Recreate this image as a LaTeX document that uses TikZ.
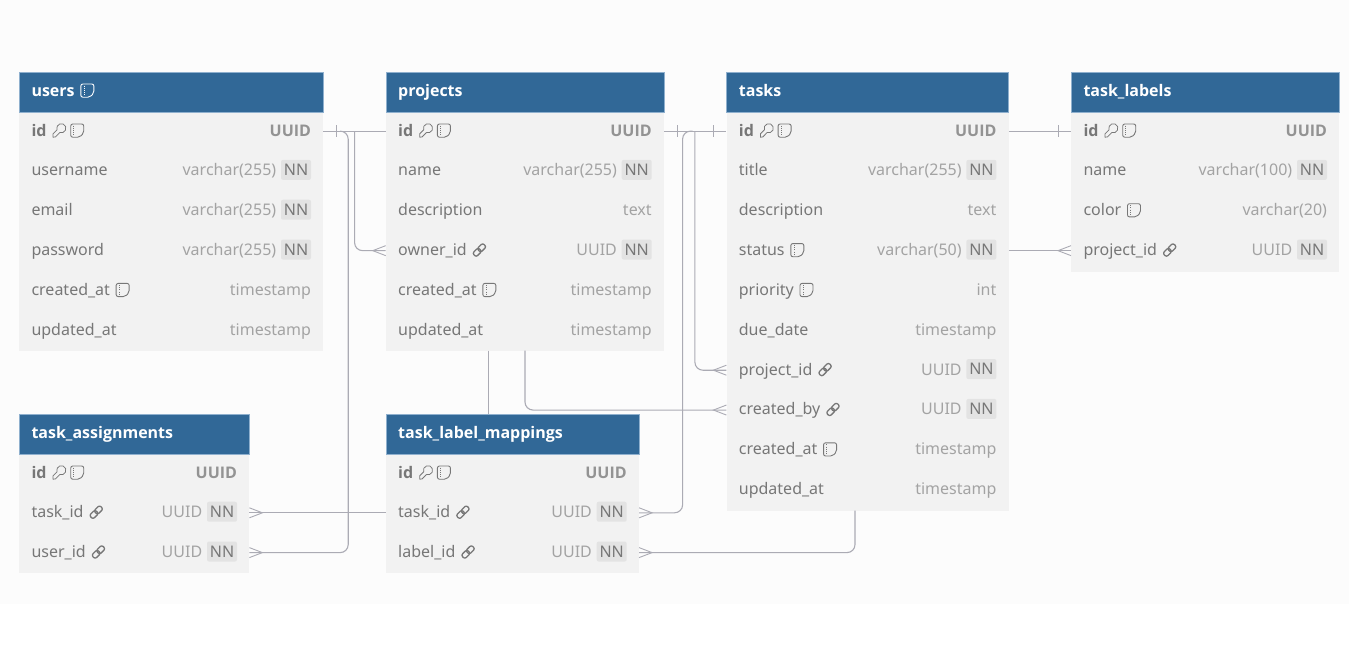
\documentclass[tikz,border=0pt]{standalone}
\usepackage{fontspec}
\setmainfont{Noto Sans}
\newfontfamily\boldfam{Open Sans}
\usetikzlibrary{calc}
\definecolor{hdr}{HTML}{316897}
\definecolor{hdrline}{HTML}{8FB0CE}
\definecolor{rowbg}{HTML}{F2F2F2}
\definecolor{pagebg}{HTML}{FCFCFC}
\definecolor{relc}{HTML}{ABABB4}
\definecolor{namec}{HTML}{777777}
\definecolor{typec}{HTML}{A3A3A3}
\definecolor{nnbg}{HTML}{E3E3E3}
\tikzset{
  hdrbox/.style={draw=hdrline,line width=.4pt,fill=hdr,inner sep=0pt,anchor=north west,minimum height=39.5pt},
  rowbox/.style={draw=none,fill=rowbg,inner sep=0pt,anchor=north west},
  rowslot/.style={draw=none,inner sep=0pt,anchor=west,minimum height=39.85pt},
  hdrtxt/.style={anchor=base west,inner sep=0pt,text=white,font=\fontsize{16}{18}\selectfont\boldfam\bfseries},
  nametxt/.style={anchor=base west,inner sep=0pt,text=namec,font=\fontsize{16}{18}\selectfont},
  idtxt/.style={anchor=base west,inner sep=0pt,text=namec,font=\fontsize{16}{18}\selectfont\boldfam\bfseries},
  typetxt/.style={anchor=base east,inner sep=0pt,text=typec,font=\fontsize{16}{18}\selectfont},
  idtype/.style={anchor=base east,inner sep=0pt,text=typec!90!black,font=\fontsize{16}{18}\selectfont\boldfam\bfseries},
  nnbox/.style={fill=nnbg,rounded corners=2pt,inner sep=0pt,minimum width=30pt,minimum height=20pt,text=namec,font=\fontsize{16}{18}\selectfont},
  icon/.style={draw=namec,line width=.75pt,line join=round},
  rel/.style={draw=relc,line width=1.1pt,rounded corners=8pt},
  relthin/.style={draw=relc,line width=.9pt},
}
\newcommand{\erdtable}[7]{%
  \def\tx{#2}\def\tw{#4}%
  \node[rowbox,minimum width=#4 pt,minimum height=#5 pt] (#1) at (#2,#3) {};
  \node[hdrbox,minimum width=#4 pt] (#1-head) at (#2,#3) {};
  \node[hdrtxt] (#1-title) at ({#2+12.3},{#3+24}) {#6};
  \begin{scope}[shift={(#1-title.base east)}]#7\end{scope}
}
\newcommand{\erdrow}[6]{%
  \node[rowslot,minimum width=\tw pt] (#1) at (\tx,{#2+1.1}) {};
  \node[nametxt] (#1-n) at ({\tx+12.3},{#2+6}) {#3};
  \begin{scope}[shift={(#1-n.base east)}]#5\end{scope}
  \ifx\relax#6\relax
    \node[typetxt] (#1-t) at ({\tx+\tw-11.8},{#2+6}) {#4};
  \else
    \node[typetxt] (#1-t) at ({\tx+\tw-46.6},{#2+6}) {#4};
    \node[nnbox] (#1-nn) at ({\tx+\tw-27},{#2}) {NN};
  \fi
}
\newcommand{\erdidrow}[2]{%
  \node[rowslot,minimum width=\tw pt] (#1) at (\tx,{#2+1.1}) {};
  \node[idtxt] (#1-n) at ({\tx+12.3},{#2+6}) {id};
  \begin{scope}[shift={(#1-n.base east)}]\ickey{6}\icnote{24}{namec}\end{scope}
  \node[idtype] (#1-t) at ({\tx+\tw-11.8},{#2+6}) {UUID};
}
\newcommand{\icnote}[2]{%
  \begin{scope}[shift={(#1,0)}]
    \draw[icon,draw=#2,rounded corners=2pt,line width=.9pt] (0,-12) -- (13,-12) -- (13,-3) -- (9,1.2) -- (0,1.2) -- cycle;
    \draw[icon,draw=#2,line width=.6pt,dash pattern=on 1pt off 1.2pt] (3,-10.5) -- (3,-0.5);
  \end{scope}}
\newcommand{\ickey}[1]{%
  \begin{scope}[shift={(#1,0)}]
    \draw[icon] (0.3,-2.2) -- (4.3,-6.2) arc[start angle=200,end angle=-110,radius=4.6pt] -- (2.6,1) -- (0.3,1.2) -- cycle;
  \end{scope}}
\newcommand{\iclink}[1]{%
  \begin{scope}[shift={(#1+6.5,-5.5)},rotate=45]
    \draw[icon,line width=1.3pt,rounded corners=2pt] (-7.2,-2.6) rectangle (0.8,2.6);
    \draw[icon,line width=1.3pt,rounded corners=2pt] (-0.8,-2.6) rectangle (7.2,2.6);
  \end{scope}}
\newcommand{\crow}[2]{%
  \draw[relthin] ($(#1)+(0,-5)$) -- ($(#1)+(#2*13,0)$) -- ($(#1)+(0,5)$);}
\newcommand{\tbar}[2]{%
  \draw[relthin] ($(#1)+(#2,-6)$) -- ($(#1)+(#2,6)$);}
\begin{document}
\begin{tikzpicture}[x=1pt,y=-1pt]
\useasboundingbox (0,0) rectangle (1349,648);
\fill[white] (0,0) rectangle (1349,648);
\fill[pagebg] (0,0) rectangle (1349,604);
% users
\erdtable{users}{19}{72}{304}{278.5}{users}{\icnote{6}{white}}
\erdidrow{users-id}{130}
\erdrow{users-username}{169.85}{username}{varchar(255)}{}{x}
\erdrow{users-email}{209.7}{email}{varchar(255)}{}{x}
\erdrow{users-password}{249.55}{password}{varchar(255)}{}{x}
\erdrow{users-created}{289.4}{created\_at}{timestamp}{\icnote{6}{namec}}{}
\erdrow{users-updated}{329.25}{updated\_at}{timestamp}{}{}
% projects
\erdtable{projects}{385.7}{72}{278}{278.5}{projects}{}
\erdidrow{projects-id}{130}
\erdrow{projects-name}{169.85}{name}{varchar(255)}{}{x}
\erdrow{projects-desc}{209.7}{description}{text}{}{}
\erdrow{projects-owner}{249.55}{owner\_id}{UUID}{\iclink{6}}{x}
\erdrow{projects-created}{289.4}{created\_at}{timestamp}{\icnote{6}{namec}}{}
\erdrow{projects-updated}{329.25}{updated\_at}{timestamp}{}{}
% tasks
\erdtable{tasks}{726.4}{72}{282}{438.5}{tasks}{}
\erdidrow{tasks-id}{130}
\erdrow{tasks-title}{169.85}{title}{varchar(255)}{}{x}
\erdrow{tasks-desc}{209.7}{description}{text}{}{}
\erdrow{tasks-status}{249.55}{status}{varchar(50)}{\icnote{6}{namec}}{x}
\erdrow{tasks-priority}{289.4}{priority}{int}{\icnote{6}{namec}}{}
\erdrow{tasks-due}{329.25}{due\_date}{timestamp}{}{}
\erdrow{tasks-project}{369.1}{project\_id}{UUID}{\iclink{6}}{x}
\erdrow{tasks-createdby}{408.95}{created\_by}{UUID}{\iclink{6}}{x}
\erdrow{tasks-created}{448.8}{created\_at}{timestamp}{\icnote{6}{namec}}{}
\erdrow{tasks-updated}{488.65}{updated\_at}{timestamp}{}{}
% task_labels
\erdtable{labels}{1071}{72}{268}{199.5}{task\_labels}{}
\erdidrow{labels-id}{130}
\erdrow{labels-name}{169.85}{name}{varchar(100)}{}{x}
\erdrow{labels-color}{209.7}{color}{varchar(20)}{\icnote{6}{namec}}{}
\erdrow{labels-project}{249.55}{project\_id}{UUID}{\iclink{6}}{x}
% task_assignments
\erdtable{assign}{19}{414}{230}{158.5}{task\_assignments}{}
\erdidrow{assign-id}{472}
\erdrow{assign-task}{511.7}{task\_id}{UUID}{\iclink{6}}{x}
\erdrow{assign-user}{551.5}{user\_id}{UUID}{\iclink{6}}{x}
% task_label_mappings
\erdtable{maps}{385.7}{414}{253}{158.5}{task\_label\_mappings}{}
\erdidrow{maps-id}{472}
\erdrow{maps-task}{511.7}{task\_id}{UUID}{\iclink{6}}{x}
\erdrow{maps-label}{551.5}{label\_id}{UUID}{\iclink{6}}{x}
% routing points
\coordinate (u1) at (354.6,131.1);
\coordinate (u2) at (348.2,131.1);
\coordinate (p1) at (694.9,131.1);
\coordinate (t1) at (682.6,131.1);
\coordinate (pb1) at (525,350.5);
\coordinate (pb2) at (488.5,350.5);
\coordinate (mt) at (488.5,414);
\coordinate (tb) at (855,510.5);
% connectors
\draw[rel] (users-id.east) -- (projects-id.west);
\draw[rel] (u1) |- (projects-owner.west);
\draw[rel] (u2) ++(-8,0) -- (u2) |- (assign-user.east);
\draw[rel] (projects-id.east) -- (tasks-id.west);
\draw[rel] (p1) |- (tasks-project.west);
\draw[rel] (t1) ++(10,0) -- (t1) |- (maps-task.east);
\draw[rel] (pb1) |- (tasks-createdby.west);
\draw[rel] (pb2) -- (mt);
\draw[rel] (assign-task.east) -- (maps-task.west);
\draw[rel] (tb) |- (maps-label.east);
\draw[rel] (tasks-id.east) -- (labels-id.west);
\draw[rel] (tasks-status.east) -- (labels-project.west);
% end marks
\tbar{users-id.east}{13}
\tbar{projects-id.east}{13}
\tbar{tasks-id.west}{-13}
\tbar{labels-id.west}{-13}
\crow{projects-owner.west}{-1}
\crow{tasks-project.west}{-1}
\crow{tasks-createdby.west}{-1}
\crow{labels-project.west}{-1}
\crow{assign-task.east}{1}
\crow{assign-user.east}{1}
\crow{maps-task.east}{1}
\crow{maps-label.east}{1}
\end{tikzpicture}
\end{document}
